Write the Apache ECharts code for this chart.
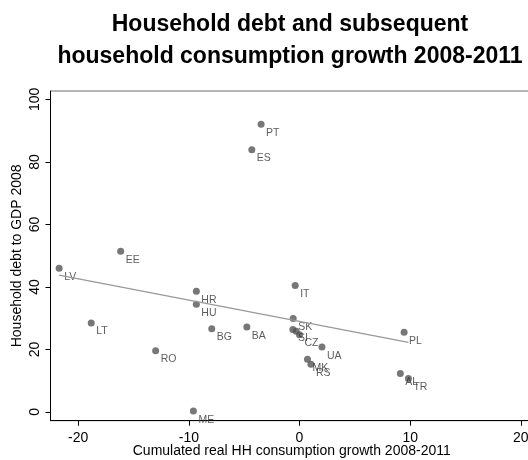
<!DOCTYPE html>
<html>
<head>
<meta charset="utf-8">
<script src="https://cdn.jsdelivr.net/npm/echarts@6/dist/echarts.min.js"></script>
<style>
html,body{margin:0;padding:0;background:#fff;}
#chart{width:528px;height:460px;}
</style>
</head>
<body>
<div id="chart"></div>
<script>
// Data
const countries = ['PT','ES','EE','LV','LT','RO','ME','HR','HU','BG','BA','IT','SK','SI','','CZ','UA','MK','RS','PL','AL','TR'];
const consumptionGrowth = [-3.47,-4.31,-16.16,-21.72,-18.82,-13.0,-9.59,-9.32,-9.32,-7.93,-4.76,-0.39,-0.57,-0.6,-0.3,0.0,2.03,0.72,1.03,9.45,9.11,9.84];
const householdDebt = [92.1,83.9,51.4,46.0,28.5,19.6,0.3,38.6,34.5,26.6,27.2,40.5,29.9,26.4,25.8,24.7,20.8,16.9,15.3,25.5,12.3,10.7];
const xTicks = [-20,-10,0,10,20];
const yTicks = [0,20,40,60,80,100];

// Linear fit (OLS) of debt on consumption growth over the data range
const n = consumptionGrowth.length;
const mx = consumptionGrowth.reduce((a,b)=>a+b,0)/n;
const my = householdDebt.reduce((a,b)=>a+b,0)/n;
let sxy = 0, sxx = 0;
for (let i=0;i<n;i++){ sxy += (consumptionGrowth[i]-mx)*(householdDebt[i]-my); sxx += (consumptionGrowth[i]-mx)**2; }
const slope = sxy/sxx, intercept = my - slope*mx;
const xmin = Math.min(...consumptionGrowth), xmax = Math.max(...consumptionGrowth);
const fitLine = [[xmin, intercept+slope*xmin],[xmax, intercept+slope*xmax]];

const points = consumptionGrowth.map((x,i)=>({value:[x, householdDebt[i]], name: countries[i]}));

const FONT = '"Liberation Sans", Arial, sans-serif';
const chart = echarts.init(document.getElementById('chart'), null, {renderer:'canvas'});
chart.setOption({
  animation:false,
  backgroundColor:'#ffffff',
  title:{
    text:'Household debt and subsequent\nhousehold consumption growth 2008-2011',
    left:285, top:4, textAlign:'center',
    textStyle:{fontFamily:FONT, fontSize:23, fontWeight:'bold', color:'#000', lineHeight:32}
  },
  grid:{left:50.5, top:91, width:492.5, height:329.7, show:true, borderColor:'#6e6e6e', borderWidth:1,
    backgroundColor:'transparent', outerBoundsMode:'none', containLabel:false},
  xAxis:{
    type:'value', min:-22.5, max:22,
    name:'Cumulated real HH consumption growth 2008-2011',
    nameLocation:'middle', nameGap:23, nameMoveOverlap:false,
    nameTextStyle:{fontFamily:FONT, fontSize:14, color:'#000', padding:[0,10,0,0]},
    axisLine:{show:true, onZero:false, lineStyle:{color:'#000', width:1}},
    axisTick:{show:true, length:5, inside:false, customValues:xTicks, lineStyle:{color:'#000'}},
    axisLabel:{customValues:xTicks, fontFamily:FONT, fontSize:14, color:'#000', margin:10},
    splitLine:{show:false}
  },
  yAxis:{
    type:'value', min:-2.8, max:102.7,
    name:'Household debt to GDP 2008',
    nameLocation:'middle', nameGap:26, nameRotate:90, nameMoveOverlap:false,
    nameTextStyle:{fontFamily:FONT, fontSize:14, color:'#000'},
    axisLine:{show:true, onZero:false, lineStyle:{color:'#000', width:1}},
    axisTick:{show:true, length:5, inside:false, customValues:yTicks, lineStyle:{color:'#000'}},
    axisLabel:{customValues:yTicks, fontFamily:FONT, fontSize:14, color:'#000', rotate:90, margin:8},
    splitLine:{show:false}
  },
  series:[
    {
      type:'scatter', data:points, symbol:'circle', symbolSize:7,
      itemStyle:{color:'#555555'},
      label:{show:true, formatter:p=>p.name, position:'right', distance:1.5, offset:[0,8.7],
        fontFamily:FONT, fontSize:10.5, color:'#333333', align:'left', verticalAlign:'middle'},
      z:3
    },
    {
      type:'line', data:fitLine, showSymbol:false, symbol:'none',
      lineStyle:{color:'#999999', width:1.2}, z:4, silent:true
    }
  ]
});
</script>
</body>
</html>
